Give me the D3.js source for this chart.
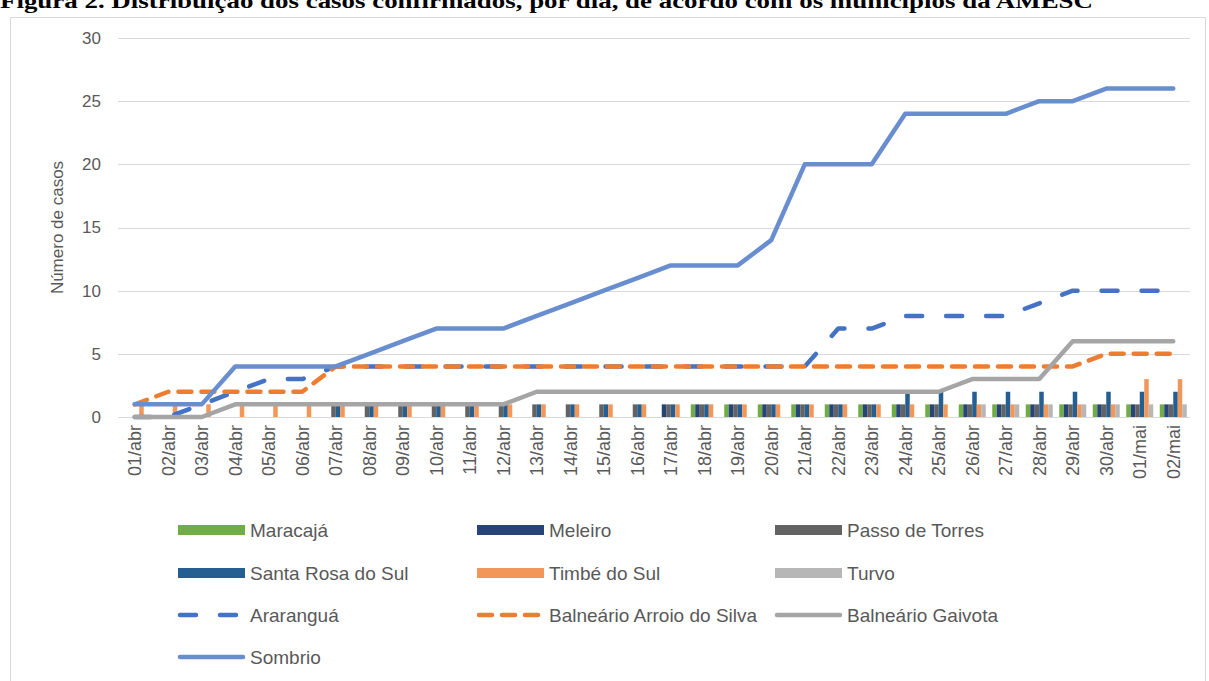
<!DOCTYPE html>
<html>
<head>
<meta charset="utf-8">
<script src="https://cdn.jsdelivr.net/npm/d3@7"></script>
<style>
  body { margin: 0; background: #fff; }
  svg text { font-family: "Liberation Sans", Arial, sans-serif; fill: #595959; }
</style>
</head>
<body>
<div id="chart"></div>
<script>
// dias do eixo x
const days = ["01/abr","02/abr","03/abr","04/abr","05/abr","06/abr","07/abr","08/abr","09/abr","10/abr",
  "11/abr","12/abr","13/abr","14/abr","15/abr","16/abr","17/abr","18/abr","19/abr","20/abr",
  "21/abr","22/abr","23/abr","24/abr","25/abr","26/abr","27/abr","28/abr","29/abr","30/abr",
  "01/mai","02/mai"];

// municípios em barras
const maracaja      = [0,0,0,0,0,0,0,0,0,0, 0,0,0,0,0,0,0,1,1,1, 1,1,1,1,1,1,1,1,1,1, 1,1];
const meleiro       = [0,0,0,0,0,0,0,0,0,0, 0,0,0,0,0,0,1,1,1,1, 1,1,1,1,1,1,1,1,1,1, 1,1];
const passoTorres   = [0,0,0,0,0,0,1,1,1,1, 1,1,1,1,1,1,1,1,1,1, 1,1,1,1,1,1,1,1,1,1, 1,1];
const santaRosa     = [0,0,0,0,0,0,1,1,1,1, 1,1,1,1,1,1,1,1,1,1, 1,1,1,2,2,2,2,2,2,2, 2,2];
const timbe         = [1,1,1,1,1,1,1,1,1,1, 1,1,1,1,1,1,1,1,1,1, 1,1,1,1,1,1,1,1,1,1, 3,3];
const turvo         = [0,0,0,0,0,0,0,0,0,0, 0,0,0,0,0,0,0,0,0,0, 0,0,0,0,0,1,1,1,1,1, 1,1];

// municípios em linhas
const ararangua     = [0,0,1,2,3,3,4,4,4,4, 4,4,4,4,4,4,4,4,4,4, 4,7,7,8,8,8,8,9,10,10, 10,10];
const arroioSilva   = [1,2,2,2,2,2,4,4,4,4, 4,4,4,4,4,4,4,4,4,4, 4,4,4,4,4,4,4,4,4,5, 5,5];
const gaivota       = [0,0,0,1,1,1,1,1,1,1, 1,1,2,2,2,2,2,2,2,2, 2,2,2,2,2,3,3,3,6,6, 6,6];
const sombrio       = [1,1,1,4,4,4,4,5,6,7, 7,7,8,9,10,11,12,12,12,14, 20,20,20,24,24,24,24,25,25,26, 26,26];

const yTicks = [0,5,10,15,20,25,30];

const barSeries = [
  {name: "Maracajá", values: maracaja, color: "#70AD47"},
  {name: "Meleiro", values: meleiro, color: "#264478"},
  {name: "Passo de Torres", values: passoTorres, color: "#636363"},
  {name: "Santa Rosa do Sul", values: santaRosa, color: "#255E91"},
  {name: "Timbé do Sul", values: timbe, color: "#F1975A"},
  {name: "Turvo", values: turvo, color: "#B7B7B7"}
];
const lineSeries = [
  {name: "Araranguá", values: ararangua, color: "#4472C4", dash: "16,24"},
  {name: "Balneário Arroio do Silva", values: arroioSilva, color: "#ED7D31", dash: "13,10"},
  {name: "Balneário Gaivota", values: gaivota, color: "#A5A5A5", dash: null},
  {name: "Sombrio", values: sombrio, color: "#698ED0", dash: null}
];

const W = 1209, H = 681;
const svg = d3.select("#chart").append("svg")
  .attr("width", W).attr("height", H);

// título (cortado no topo)
svg.append("text")
  .attr("x", 0).attr("y", 8)
  .attr("textLength", 1093)
  .attr("lengthAdjust", "spacingAndGlyphs")
  .style("font-family", "'Liberation Serif', 'Times New Roman', serif")
  .style("font-weight", "bold")
  .style("font-size", "22px")
  .style("fill", "#000")
  .text("Figura 2. Distribuição dos casos confirmados, por dia, de acordo com os municípios da AMESC");

// moldura do gráfico
svg.append("rect")
  .attr("x", 10.5).attr("y", 17.5)
  .attr("width", 1195).attr("height", 700)
  .attr("fill", "none").attr("stroke", "#D9D9D9");

const x = d3.scaleBand().domain(days).range([118, 1190]).padding(0);
const y = d3.scaleLinear().domain([0, 30]).range([417, 38]);
const bw = x.bandwidth();
const x1 = d3.scaleBand().domain(barSeries.map(s => s.name))
  .range([(bw - 27) / 2, (bw + 27) / 2]);

// linhas de grade
svg.append("g").selectAll("line")
  .data(yTicks)
  .enter().append("line")
  .attr("x1", 118).attr("x2", 1190)
  .attr("y1", d => Math.round(y(d)) + 0.5)
  .attr("y2", d => Math.round(y(d)) + 0.5)
  .attr("stroke", "#D9D9D9").attr("stroke-width", 1);

// rótulos eixo y
svg.append("g").selectAll("text")
  .data(yTicks)
  .enter().append("text")
  .attr("x", 101).attr("y", d => y(d))
  .attr("dy", "0.35em")
  .attr("text-anchor", "end")
  .style("font-size", "17px")
  .text(d => d);

svg.append("text")
  .attr("transform", "translate(63," + y(15) + ") rotate(-90)")
  .attr("text-anchor", "middle")
  .style("font-size", "17px")
  .text("Número de casos");

// rótulos eixo x
svg.append("g").selectAll("text")
  .data(days)
  .enter().append("text")
  .attr("transform", d => "translate(" + (x(d) + bw / 2) + ",425) rotate(-90)")
  .attr("dy", "0.35em")
  .attr("text-anchor", "end")
  .style("font-size", "18px")
  .text(d => d);

// barras
const barG = svg.append("g");
barSeries.forEach(s => {
  barG.append("g").selectAll("rect")
    .data(s.values.map((v, i) => ({day: days[i], v: v})).filter(d => d.v > 0))
    .enter().append("rect")
    .attr("x", d => x(d.day) + x1(s.name))
    .attr("width", x1.bandwidth())
    .attr("y", d => y(d.v))
    .attr("height", d => y(0) - y(d.v))
    .attr("fill", s.color);
});

// linhas
const line = d3.line()
  .x((d, i) => x(days[i]) + bw / 2)
  .y(d => y(d));

lineSeries.forEach(s => {
  svg.append("path")
    .datum(s.values)
    .attr("d", line)
    .attr("fill", "none")
    .attr("stroke", s.color)
    .attr("stroke-width", 4.5)
    .attr("stroke-linejoin", "round")
    .attr("stroke-linecap", "round")
    .attr("stroke-dasharray", s.dash);
});

// legenda
const legendItems = barSeries.map(s => ({name: s.name, color: s.color, type: "bar"}))
  .concat(lineSeries.map(s => ({name: s.name, color: s.color, type: "line", dash: s.dash})));
const colX = [178, 477, 775];
const rowY = [530, 573, 615, 657];

const leg = svg.append("g").selectAll("g")
  .data(legendItems)
  .enter().append("g")
  .attr("transform", (d, i) => "translate(" + colX[i % 3] + "," + rowY[Math.floor(i / 3)] + ")");

leg.filter(d => d.type === "bar").append("rect")
  .attr("x", 0).attr("y", -5)
  .attr("width", 67).attr("height", 10)
  .attr("fill", d => d.color);

leg.filter(d => d.type === "line").append("line")
  .attr("x1", 2).attr("x2", 65)
  .attr("y1", 0).attr("y2", 0)
  .attr("stroke", d => d.color)
  .attr("stroke-width", 4.5)
  .attr("stroke-linecap", "round")
  .attr("stroke-dasharray", d => d.dash);

leg.append("text")
  .attr("x", 72).attr("y", 0)
  .attr("dy", "0.35em")
  .style("font-size", "19px")
  .text(d => d.name);
</script>
</body>
</html>
